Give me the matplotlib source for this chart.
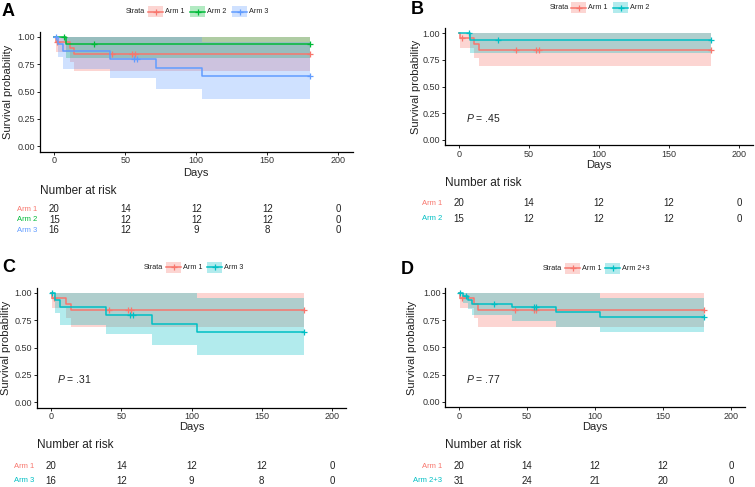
import matplotlib
matplotlib.use('Agg')
import numpy as np
import matplotlib.pyplot as plt
from matplotlib.patches import Rectangle
from matplotlib.transforms import blended_transform_factory

plt.rcParams['font.family'] = ['Liberation Sans', 'DejaVu Sans']
plt.rcParams['mathtext.fontset'] = 'custom'
plt.rcParams['mathtext.it'] = 'Liberation Sans:italic'
plt.rcParams['mathtext.rm'] = 'Liberation Sans'

W, H = 755, 487
end_day = 180

# Kaplan-Meier steps: step start, survival, CI low, CI high, censor days
arm1_t = [0, 1, 11, 14]
arm1_s = [1.0, 0.95, 0.895, 0.842]
arm1_lo = [1.0, 0.86, 0.77, 0.69]
arm1_hi = [1.0, 1.0, 1.0, 1.0]
arm1_cens = [2, 41, 55, 57, 180]

arm2_t = [0, 8]
arm2_s = [1.0, 0.933]
arm2_lo = [1.0, 0.81]
arm2_hi = [1.0, 1.0]
arm2_cens = [7, 28, 180]

arm3_t = [0, 2.5, 6.5, 39, 72, 104]
arm3_s = [1.0, 0.9375, 0.87, 0.80, 0.72, 0.64]
arm3_lo = [1.0, 0.82, 0.71, 0.62, 0.52, 0.43]
arm3_hi = [1.0, 1.0, 1.0, 1.0, 1.0, 0.95]
arm3_cens = [1, 56, 58, 180]

arm23_t = [0, 2.7, 6.3, 9.8, 39, 71.5, 104]
arm23_s = [1.0, 0.968, 0.935, 0.90, 0.867, 0.826, 0.78]
arm23_lo = [1.0, 0.91, 0.85, 0.80, 0.745, 0.69, 0.64]
arm23_hi = [1.0, 1.0, 1.0, 1.0, 1.0, 1.0, 0.95]
arm23_cens = [0.5, 5, 26, 55, 57, 180]

# number at risk
risk_days = [0, 50, 100, 150, 200]
risk_arm1 = [20, 14, 12, 12, 0]
risk_arm2 = [15, 12, 12, 12, 0]
risk_arm3 = [16, 12, 9, 8, 0]
risk_arm23 = [31, 24, 21, 20, 0]

p_values = ['.45', '.31', '.77']

arm1 = (arm1_t, arm1_s, arm1_lo, arm1_hi, arm1_cens)
arm2 = (arm2_t, arm2_s, arm2_lo, arm2_hi, arm2_cens)
arm3 = (arm3_t, arm3_s, arm3_lo, arm3_hi, arm3_cens)
arm23 = (arm23_t, arm23_s, arm23_lo, arm23_hi, arm23_cens)

red, green, blue, cyan = '#F8766D', '#00BA38', '#619CFF', '#00BFC4'

panels = [
    dict(letter='A', lxy=(2, 11), arms=[arm1, arm2, arm3], names=['Arm 1', 'Arm 2', 'Arm 3'],
         colors=[red, green, blue], risks=[risk_arm1, risk_arm2, risk_arm3],
         box=(40, 31.5, 352.5, 151.5), ylab_x=8, days_y=172.5,
         strata=(145, 11.7), keys=[148, 190, 232],
         risk_title=191, risk_rows=[209.3, 219.6, 230], pval=None),
    dict(letter='B', lxy=(411, 9), arms=[arm1, arm2], names=['Arm 1', 'Arm 2'],
         colors=[red, cyan], risks=[risk_arm1, risk_arm2],
         box=(445, 27.7, 753, 145.3), ylab_x=416, days_y=165,
         strata=(569, 7.5), keys=[571, 613],
         risk_title=183.3, risk_rows=[203.3, 219], pval=(466, 118, p_values[0])),
    dict(letter='C', lxy=(2, 268), arms=[arm1, arm3], names=['Arm 1', 'Arm 3'],
         colors=[red, cyan], risks=[risk_arm1, risk_arm3],
         box=(37, 287.5, 346, 407.5), ylab_x=6, days_y=426.5,
         strata=(163, 267.3), keys=[166, 207],
         risk_title=445, risk_rows=[466, 481], pval=(57, 379, p_values[1])),
    dict(letter='D', lxy=(401, 269), arms=[arm1, arm23], names=['Arm 1', 'Arm 2+3'],
         colors=[red, cyan], risks=[risk_arm1, risk_arm23],
         box=(445.4, 287.5, 744.5, 407.3), ylab_x=412, days_y=426.5,
         strata=(562, 268.3), keys=[565, 605],
         risk_title=445, risk_rows=[466, 481], pval=(466, 379, p_values[2])),
]

fig = plt.figure(figsize=(W / 100, H / 100), dpi=100)
ov = fig.add_axes([0, 0, 1, 1], zorder=10)
ov.set_xlim(0, W)
ov.set_ylim(H, 0)
ov.axis('off')
ov.patch.set_alpha(0)


def draw_arm(ax, arm, color):
    t, s, lo, hi, cens = arm
    tt = np.append(t, end_day)
    ss = np.append(s, s[-1])
    ax.fill_between(tt, np.append(lo, lo[-1]), np.append(hi, hi[-1]), step='post',
                    color=color, alpha=0.3, lw=0)
    ax.step(tt, ss, where='post', color=color, lw=1.1)
    idx = np.searchsorted(t, cens, side='right') - 1
    ax.plot(cens, np.array(s)[idx], '+', color=color, ms=5, mew=0.9, ls='none')


for p in panels:
    l, t, r, b = p['box']
    ax = fig.add_axes([l / W, 1 - b / H, (r - l) / W, (b - t) / H])
    for arm, c in zip(p['arms'], p['colors']):
        draw_arm(ax, arm, c)
    ax.set_xlim(-10, 210)
    ax.set_ylim(-0.05, 1.05)
    ax.set_xticks(risk_days)
    ax.set_yticks([0, 0.25, 0.5, 0.75, 1.0])
    ax.set_yticklabels(['0.00', '0.25', '0.50', '0.75', '1.00'])
    for side in ['top', 'right']:
        ax.spines[side].set_visible(False)
    for side in ['left', 'bottom']:
        ax.spines[side].set_linewidth(0.9)
    ax.tick_params(labelsize=6.5, length=2, width=0.6, pad=1.5, colors='black', labelcolor='#333333')

    # axis titles, panel letter, p value
    ov.text(p['ylab_x'], (t + b) / 2, 'Survival probability', rotation=90,
            ha='center', va='center', fontsize=8, color='#222222')
    ov.text((l + r) / 2, p['days_y'], 'Days', ha='center', va='center', fontsize=8, color='#222222')
    ov.text(p['lxy'][0], p['lxy'][1], p['letter'], ha='left', va='center',
            fontsize=13, fontweight='bold')
    if p['pval']:
        px, py, pv = p['pval']
        ov.text(px, py, '$P$ = ' + pv, ha='left', va='center', fontsize=7.5, color='#222222')

    # legend
    sx, sy = p['strata']
    ov.text(sx, sy, 'Strata', ha='right', va='center', fontsize=5.2, color='#222222')
    for kx, name, c in zip(p['keys'], p['names'], p['colors']):
        ov.add_patch(Rectangle((kx, sy - 5.5), 15, 11, color=c, alpha=0.3, lw=0))
        ov.plot([kx, kx + 15], [sy, sy], color=c, lw=1.1)
        ov.plot([kx + 7.5], [sy], '+', color=c, ms=5, mew=0.9)
        ov.text(kx + 17, sy, name, ha='left', va='center', fontsize=5.2, color='#222222')

    # risk table
    ov.text(l, p['risk_title'], 'Number at risk', ha='left', va='center', fontsize=8.5, color='#222222')
    tr = blended_transform_factory(ax.transData, ov.transData)
    for ry, name, c, vals in zip(p['risk_rows'], p['names'], p['colors'], p['risks']):
        ov.text(l - 3, ry, name, ha='right', va='center', fontsize=5.5, color=c)
        for d, v in zip(risk_days, vals):
            ov.text(d, ry, str(v), transform=tr, ha='center', va='center',
                    fontsize=7, color='#222222')

fig.savefig('out.png', dpi=100)
